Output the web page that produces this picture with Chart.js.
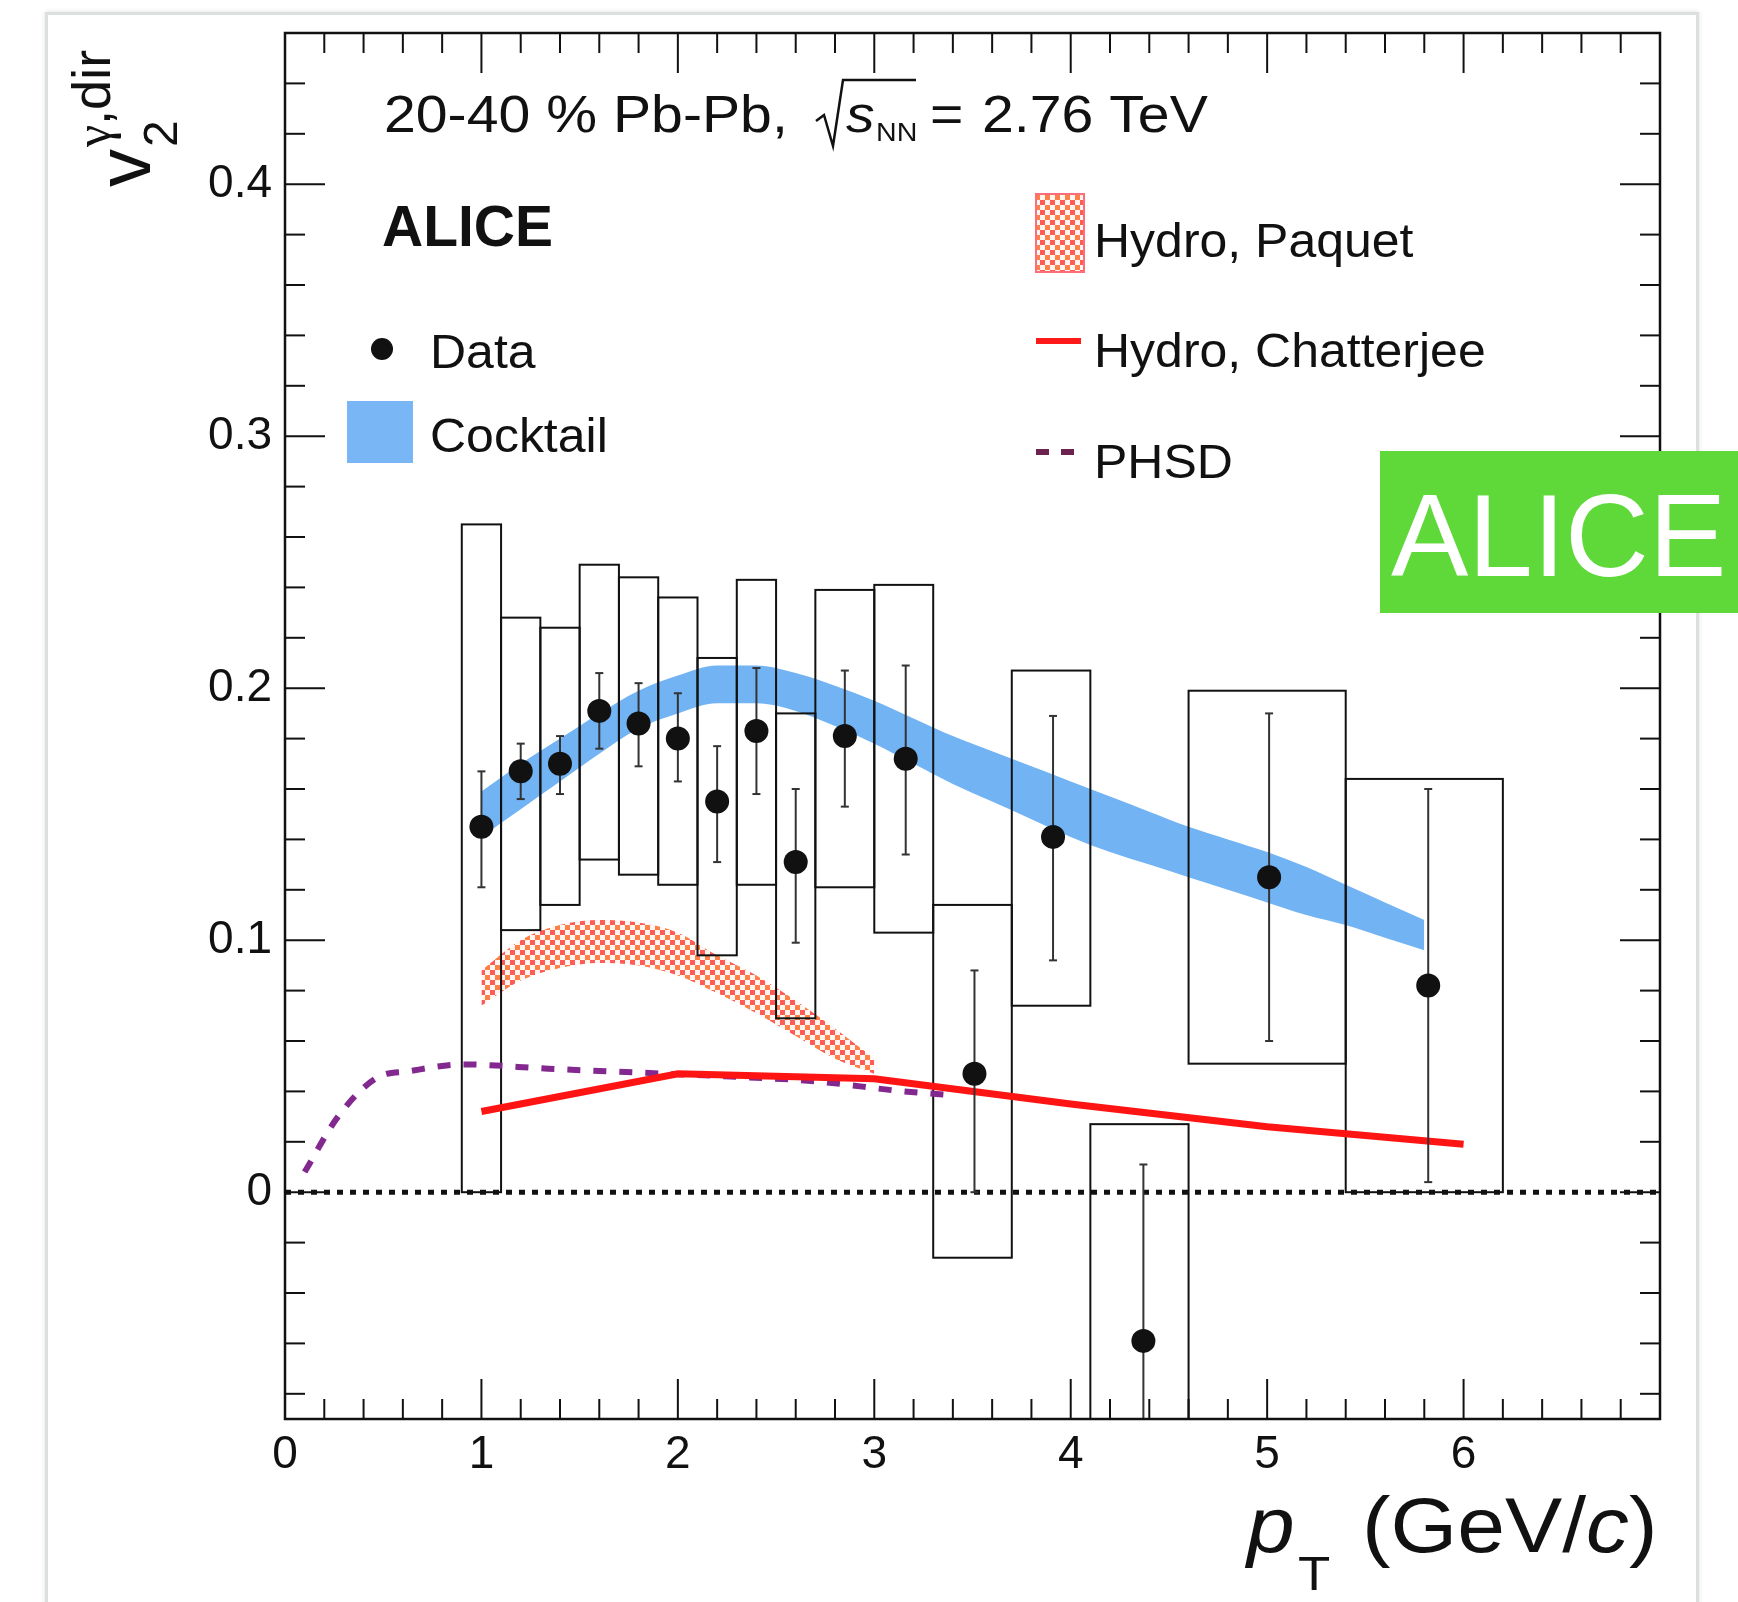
<!DOCTYPE html>
<html><head><meta charset="utf-8">
<script src="https://cdn.jsdelivr.net/npm/chart.js@4.4.1/dist/chart.umd.min.js"></script>
<style>
html,body{margin:0;padding:0;background:#fff;}
#wrap{position:relative;width:1738px;height:1602px;overflow:hidden;background:#fff;}
#frame{position:absolute;left:45px;top:12px;width:1648px;height:1640px;border:3px solid #dcdfe0;box-shadow:0 0 5px rgba(0,0,0,0.12);}
#c{position:absolute;left:0;top:0;}
#badge{position:absolute;left:1380px;top:451px;width:358px;height:162px;background:#5fd83a;color:#fff;font:116px "Liberation Sans",Arial,sans-serif;line-height:162px;padding:4px 0 0 11px;box-sizing:border-box;overflow:hidden;white-space:nowrap;}
</style></head>
<body>
<div id="wrap">
<div id="frame"></div>
<canvas id="c" width="1738" height="1602"></canvas>
<div id="badge">ALICE</div>
</div>
<script>
// ---------- DATA ----------
const pT      = [1.0, 1.2, 1.4, 1.6, 1.8, 2.0, 2.2, 2.4, 2.6, 2.85, 3.16, 3.51, 3.91, 4.37, 5.01, 5.82];
const v2      = [0.145,0.167,0.170,0.191,0.186,0.180,0.155,0.183,0.131,0.181,0.172,0.047,0.141,-0.059,0.125,0.082];
const statHi  = [0.167,0.178,0.181,0.206,0.202,0.198,0.177,0.208,0.160,0.207,0.209,0.088,0.189,0.011,0.190,0.160];
const statLo  = [0.121,0.156,0.158,0.176,0.169,0.163,0.131,0.158,0.099,0.153,0.134,0.000,0.092,-0.120,0.060,0.004];
const binLo   = [0.9,1.1,1.3,1.5,1.7,1.9,2.1,2.3,2.5,2.7,3.0,3.3,3.7,4.1,4.6,5.4];
const binHi   = [1.1,1.3,1.5,1.7,1.9,2.1,2.3,2.5,2.7,3.0,3.3,3.7,4.1,4.6,5.4,6.2];
const sysHi   = [0.265,0.228,0.224,0.249,0.244,0.236,0.212,0.243,0.190,0.239,0.241,0.114,0.207,0.027,0.199,0.164];
const sysLo   = [0.000,0.104,0.114,0.132,0.126,0.122,0.094,0.122,0.069,0.121,0.103,-0.026,0.074,-0.145,0.051,0.000];

const cocktailX  = [1.0,1.2,1.4,1.6,1.8,2.0,2.2,2.4,2.6,2.8,3.0,3.2,3.4,3.6,3.8,4.0,4.2,4.4,4.6,4.8,5.0,5.2,5.4,5.6,5.8];
const cocktailUp = [0.159,0.170,0.180,0.190,0.199,0.205,0.209,0.209,0.206,0.201,0.195,0.188,0.181,0.175,0.169,0.163,0.157,0.151,0.145,0.140,0.135,0.129,0.122,0.115,0.108];
const cocktailLo = [0.141,0.152,0.163,0.174,0.184,0.190,0.194,0.194,0.191,0.185,0.178,0.170,0.162,0.155,0.148,0.141,0.135,0.130,0.125,0.120,0.115,0.110,0.106,0.101,0.096];

const paquetX  = [1.0,1.2,1.4,1.6,1.8,2.0,2.2,2.4,2.6,2.8,3.0];
const paquetUp = [0.088,0.100,0.106,0.108,0.107,0.103,0.094,0.086,0.076,0.065,0.053];
const paquetLo = [0.074,0.084,0.089,0.091,0.090,0.086,0.079,0.071,0.062,0.053,0.047];

const chatX = [1.0,2.0,3.0,4.0,5.0,6.0];
const chatV = [0.032,0.047,0.045,0.035,0.026,0.019];

const phsdX = [0.10,0.27,0.47,0.63,0.91,1.34,1.79,2.24,2.70,3.15,3.40];
const phsdV = [0.008,0.030,0.0455,0.048,0.0507,0.049,0.0475,0.046,0.044,0.040,0.0385];

const zeroX = [0,7];
const zeroV = [0,0];

const xTickVals = [0,1,2,3,4,5,6];
const xTickLabels = ['0','1','2','3','4','5','6'];
const yTickVals = [0,0.1,0.2,0.3,0.4];
const yTickLabels = ['0','0.1','0.2','0.3','0.4'];

const FONT = '"Liberation Sans", Arial, Helvetica, sans-serif';
const pts = (xs, ys) => xs.map((x,i)=>({x, y: ys[i]}));

// ---------- pattern ----------
const canvas = document.getElementById('c');
const mainCtx = canvas.getContext('2d');
function makePattern(){
  const off = document.createElement('canvas'); off.width = 10; off.height = 10;
  const g = off.getContext('2d');
  g.fillStyle = '#fff6f2'; g.fillRect(0,0,10,10);
  g.fillStyle = 'rgb(255,92,88)'; g.fillRect(0,0,5,5);
  g.fillStyle = 'rgb(255,128,70)'; g.fillRect(5,5,5,5);
  return mainCtx.createPattern(off,'repeat');
}
const hatch = makePattern();

function txt(ctx, s, x, y, font, sx, align){
  ctx.save(); ctx.translate(x,y); ctx.scale(sx||1,1);
  ctx.font = font; ctx.textAlign = align||'left'; ctx.textBaseline='alphabetic';
  ctx.fillStyle = '#111'; ctx.fillText(s,0,0); ctx.restore();
}
function line(ctx,x1,y1,x2,y2){ctx.beginPath();ctx.moveTo(x1,y1);ctx.lineTo(x2,y2);ctx.stroke();}

const DATA_IDX = 7, PAQ_LO_IDX = 3;

const drawPlugin = {
  id:'custom',
  afterDatasetDraw(chart, args){
    if (args.index !== PAQ_LO_IDX) return;
    const {ctx, chartArea:a, scales:{x,y}} = chart;
    ctx.save();
    ctx.beginPath(); ctx.rect(a.left,a.top,a.right-a.left,a.bottom-a.top); ctx.clip();
    ctx.strokeStyle='#111'; ctx.lineWidth=2;
    for (let i=0;i<pT.length;i++){
      const x1=x.getPixelForValue(binLo[i]), x2=x.getPixelForValue(binHi[i]);
      const y1=y.getPixelForValue(sysHi[i]), y2=y.getPixelForValue(sysLo[i]);
      ctx.strokeRect(x1,y1,x2-x1,y2-y1);
    }
    ctx.restore();
  },
  beforeDatasetDraw(chart, args){
    if (args.index !== DATA_IDX) return;
    const {ctx, chartArea:a, scales:{x,y}} = chart;
    ctx.save();
    ctx.beginPath(); ctx.rect(a.left,a.top,a.right-a.left,a.bottom-a.top); ctx.clip();
    ctx.strokeStyle='#333'; ctx.lineWidth=2;
    for (let i=0;i<pT.length;i++){
      const px=x.getPixelForValue(pT[i]);
      const yh=y.getPixelForValue(statHi[i]), yl=y.getPixelForValue(statLo[i]);
      line(ctx,px,yh,px,yl);
      line(ctx,px-4,yh,px+4,yh); line(ctx,px-4,yl,px+4,yl);
    }
    ctx.restore();
  },
  afterDraw(chart){
    const {ctx, chartArea:a, scales:{x,y}} = chart;
    ctx.save();
    // frame
    ctx.strokeStyle='#111'; ctx.lineWidth=2.5;
    ctx.strokeRect(a.left,a.top,a.right-a.left,a.bottom-a.top);
    ctx.lineWidth=2;
    for (let i=0;i<=35;i++){
      const v=i*0.2, px=x.getPixelForValue(v), L=(i%5===0)?40:20;
      line(ctx,px,a.bottom,px,a.bottom-L); line(ctx,px,a.top,px,a.top+L);
    }
    for (let i=-4;i<=22;i++){
      const v=i*0.02, py=y.getPixelForValue(v), L=(i%5===0)?40:20;
      line(ctx,a.left,py,a.left+L,py); line(ctx,a.right,py,a.right-L,py);
    }
    // header
    const hf = '52px '+FONT, SX=1.1;
    txt(ctx,'20-40 % Pb-Pb,',384,132,hf,SX);
    ctx.strokeStyle='#111'; ctx.lineWidth=2.5;
    ctx.beginPath(); ctx.moveTo(816,121); ctx.lineTo(824,115); ctx.lineTo(833,146); ctx.lineTo(843,80); ctx.lineTo(916,80); ctx.stroke();
    txt(ctx,'s',846,132,'italic 52px '+FONT,SX);
    txt(ctx,'NN',876,141,'26px '+FONT,SX);
    txt(ctx,'=',930,132,hf,SX);
    txt(ctx,'2.76 TeV',982,132,hf,SX);
    // ALICE
    txt(ctx,'ALICE',382,246,'bold 57px '+FONT,1.0);
    // legend left
    const lf='49px '+FONT;
    ctx.fillStyle='#111'; ctx.beginPath(); ctx.arc(382,349,11,0,Math.PI*2); ctx.fill();
    txt(ctx,'Data',430,368,lf,1.02);
    ctx.fillStyle='#78b6f5'; ctx.fillRect(347,401,66,62);
    txt(ctx,'Cocktail',430,452,lf,1.02);
    // legend right
    ctx.fillStyle=hatch; ctx.fillRect(1036,194,48,78);
    ctx.strokeStyle='rgb(255,110,120)'; ctx.lineWidth=2; ctx.strokeRect(1036,194,48,78);
    txt(ctx,'Hydro, Paquet',1094,257,lf,1.02);
    ctx.strokeStyle='#ff1a1a'; ctx.lineWidth=6; line(ctx,1036,341,1081,341);
    txt(ctx,'Hydro, Chatterjee',1094,367,lf,1.02);
    ctx.strokeStyle='#6d2350'; ctx.lineWidth=6; ctx.setLineDash([13,12]); line(ctx,1036,452,1081,452); ctx.setLineDash([]);
    txt(ctx,'PHSD',1094,478,lf,1.02);
    // x title
    txt(ctx,'p',1247,1552,'italic 78px '+FONT,1.1);
    txt(ctx,'T',1298,1590,'48px '+FONT,1.1);
    ctx.save(); ctx.translate(1362,1552); ctx.scale(1.1,1); ctx.fillStyle='#111'; ctx.textBaseline='alphabetic';
    let cx=0;
    ctx.font='78px '+FONT; ctx.fillText('(GeV/',cx,0); cx+=ctx.measureText('(GeV/').width;
    ctx.font='italic 78px '+FONT; ctx.fillText('c',cx,0); cx+=ctx.measureText('c').width;
    ctx.font='78px '+FONT; ctx.fillText(')',cx,0);
    ctx.restore();
    // y title
    ctx.save(); ctx.translate(150,187); ctx.rotate(-Math.PI/2); ctx.fillStyle='#111'; ctx.textBaseline='alphabetic';
    ctx.font='76px '+FONT; ctx.fillText('v',0,0);
    ctx.font='48px '+FONT; ctx.fillText('2',40,27);
    ctx.font='50px "Liberation Serif", "DejaVu Serif", serif'; ctx.fillText('\u03b3',40,-40);
    const gw = ctx.measureText('\u03b3').width;
    ctx.font='54px '+FONT; ctx.fillText(',dir',40+gw,-40);
    ctx.restore();
    ctx.restore();
  }
};

const chart = new Chart(canvas, {
  type:'line',
  data:{ datasets:[
    {label:'Cocktail up', data:pts(cocktailX,cocktailUp), borderColor:'transparent', borderWidth:0, pointRadius:0, fill:'+1', backgroundColor:'#72b3f3', cubicInterpolationMode:'monotone', order:10},
    {label:'Cocktail lo', data:pts(cocktailX,cocktailLo), borderColor:'transparent', borderWidth:0, pointRadius:0, fill:false, cubicInterpolationMode:'monotone', order:9},
    {label:'Paquet up', data:pts(paquetX,paquetUp), borderColor:'transparent', borderWidth:0, pointRadius:0, fill:'+1', backgroundColor:hatch, cubicInterpolationMode:'monotone', order:8},
    {label:'Paquet lo', data:pts(paquetX,paquetLo), borderColor:'transparent', borderWidth:0, pointRadius:0, fill:false, cubicInterpolationMode:'monotone', order:7},
    {label:'zero', data:pts(zeroX,zeroV), borderColor:'#111', borderWidth:5, borderDash:[6,7], pointRadius:0, fill:false, order:6},
    {label:'PHSD', data:pts(phsdX,phsdV), borderColor:'#82288f', borderWidth:6, borderDash:[13,13], pointRadius:0, fill:false, cubicInterpolationMode:'monotone', order:5},
    {label:'Hydro, Chatterjee', data:pts(chatX,chatV), borderColor:'#ff1414', borderWidth:7, pointRadius:0, fill:false, order:4},
    {label:'Data', data:pts(pT,v2), showLine:false, pointRadius:12, pointBackgroundColor:'#111', pointBorderColor:'#111', pointBorderWidth:0, order:1}
  ]},
  options:{
    responsive:false, animation:false, devicePixelRatio:1,
    layout:{padding:{top:33,right:78,left:0,bottom:0}},
    plugins:{legend:{display:false}, tooltip:{enabled:false}},
    scales:{
      x:{type:'linear', min:0, max:7,
        afterBuildTicks:(s)=>{s.ticks = xTickVals.map(v=>({value:v}));},
        afterFit:(s)=>{s.height=183; s.paddingLeft=0; s.paddingRight=0;},
        ticks:{font:{family:FONT,size:46}, color:'#111', padding:9, maxRotation:0, autoSkip:false,
          callback:(v)=>{const i=xTickVals.findIndex(t=>Math.abs(t-v)<1e-9); return i<0?'':xTickLabels[i];}},
        grid:{display:false, drawTicks:false, tickLength:0}, border:{display:false}},
      y:{type:'linear', min:-0.09, max:0.46,
        afterBuildTicks:(s)=>{s.ticks = yTickVals.map(v=>({value:v}));},
        afterFit:(s)=>{s.width=285; s.paddingTop=0; s.paddingBottom=0;},
        ticks:{font:{family:FONT,size:46}, color:'#111', padding:13, autoSkip:false,
          callback:(v)=>{const i=yTickVals.findIndex(t=>Math.abs(t-v)<1e-9); return i<0?'':yTickLabels[i];}},
        grid:{display:false, drawTicks:false, tickLength:0}, border:{display:false}}
    }
  },
  plugins:[drawPlugin]
});
</script>
</body></html>
